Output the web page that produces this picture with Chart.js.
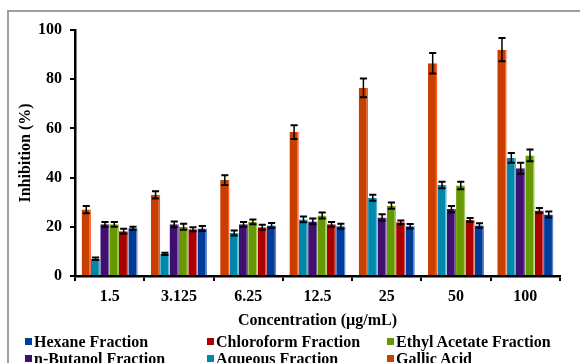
<!DOCTYPE html>
<html>
<head>
<meta charset="utf-8">
<script src="https://cdn.jsdelivr.net/npm/chart.js@4/dist/chart.umd.min.js"></script>
<style>
  html, body { margin: 0; padding: 0; background: #fff; }
  #wrap { position: relative; width: 580px; height: 363px; overflow: hidden; }
  #frame { position: absolute; left: 7px; top: 10px; width: 600px; height: 400px;
           border-left: 2px solid #a0a0a0; border-top: 2px solid #a0a0a0; box-sizing: border-box; }
  canvas { position: absolute; left: 0; top: 0; }
  .legend { position: absolute; font: bold 16px "Liberation Serif", "Times New Roman", serif;
            color: #000; line-height: 17px; white-space: nowrap; }
  .legend .sw { display: inline-block; width: 7px; height: 7px; margin-right: 2px; vertical-align: 2px; }
</style>
</head>
<body>
<div id="wrap">
  <div id="frame"></div>
  <canvas id="c" width="580" height="363"></canvas>
  <div id="legend"></div>
</div>
<script>
// Concentrations tested (µg/mL)
const concentrations = ['1.5', '3.125', '6.25', '12.5', '25', '50', '100'];

// Inhibition (%) means and error margins per sample
const gallicAcid      = [27, 33, 39, 58.5, 76.5, 86.5, 92];
const gallicAcidErr   = [1.5, 1.5, 2, 2.8, 3.8, 4.2, 4.7];
const aqueous         = [7, 9, 17.5, 23, 31.8, 37, 48];
const aqueousErr      = [0.5, 0.5, 1, 1.2, 1.2, 1.3, 2];
const nButanol        = [21, 21, 21, 22.2, 23.8, 27.2, 43.8];
const nButanolErr     = [1, 1.2, 1, 1.2, 1.3, 1.3, 2.2];
const ethylAcetate    = [21, 20, 22, 24.6, 28.6, 36.8, 49];
const ethylAcetateErr = [1, 1.2, 1, 1.2, 1.3, 1.5, 2.4];
const chloroform      = [18.2, 19, 19.8, 21, 21.8, 22.8, 26.6];
const chloroformErr   = [1, 0.8, 1, 1, 0.8, 0.8, 1];
const hexane          = [19.4, 19.3, 20.5, 20.2, 20.2, 20.5, 25];
const hexaneErr       = [0.6, 1, 1, 1, 0.9, 0.9, 1.2];

const yTicks = [0, 20, 40, 60, 80, 100];

const FONT = '"Liberation Serif", "Times New Roman", serif';

function series(label, data, err, fill, edge) {
  return { label, data, errors: err, backgroundColor: fill, borderColor: edge,
           borderWidth: { left: 0, right: 1.5, top: 0, bottom: 0 }, borderSkipped: 'bottom' };
}

const datasets = [
  series('Gallic Acid',            gallicAcid,   gallicAcidErr,   '#C84000', '#FF5A2A'),
  series('Aqueous Fraction',       aqueous,      aqueousErr,      '#0088AA', '#5BB8D0'),
  series('n-Butanol Fraction',     nButanol,     nButanolErr,     '#3F1070', '#7A5A9A'),
  series('Ethyl Acetate Fraction', ethylAcetate, ethylAcetateErr, '#669900', '#A0C860'),
  series('Chloroform Fraction',    chloroform,   chloroformErr,   '#AA0000', '#D06060'),
  series('Hexane Fraction',        hexane,       hexaneErr,       '#003C99', '#6088C8')
];

// Error bars drawn from each bar's own position and the y scale
const errorBars = {
  id: 'errorBars',
  afterDatasetsDraw(chart) {
    const ctx = chart.ctx;
    const y = chart.scales.y;
    ctx.save();
    ctx.strokeStyle = '#000';
    chart.data.datasets.forEach((ds, di) => {
      const meta = chart.getDatasetMeta(di);
      meta.data.forEach((bar, i) => {
        const v = ds.data[i], e = ds.errors[i];
        const yt = y.getPixelForValue(v + e);
        const yb = y.getPixelForValue(v - e);
        const half = bar.width * 0.38;
        ctx.lineWidth = 1.5;
        ctx.beginPath();
        ctx.moveTo(bar.x, yt); ctx.lineTo(bar.x, yb);
        ctx.stroke();
        ctx.lineWidth = 2;
        ctx.beginPath();
        ctx.moveTo(bar.x - half, yt); ctx.lineTo(bar.x + half, yt);
        ctx.moveTo(bar.x - half, yb); ctx.lineTo(bar.x + half, yb);
        ctx.stroke();
      });
    });
    ctx.restore();
  }
};

new Chart(document.getElementById('c'), {
  type: 'bar',
  data: { labels: concentrations, datasets },
  plugins: [errorBars],
  options: {
    responsive: false,
    animation: false,
    layout: { padding: { top: 30, right: 20, bottom: 33, left: 0 } },
    datasets: { bar: { categoryPercentage: 0.81, barPercentage: 1.0 } },
    plugins: { legend: { display: false }, tooltip: { enabled: false } },
    scales: {
      x: {
        afterFit(s) { s.height = 54; },
        grid: { drawOnChartArea: false, drawTicks: true, tickLength: 5, color: '#000', lineWidth: 2, offset: true },
        border: { display: true, color: '#000', width: 2.5 },
        ticks: { color: '#000', padding: 6, font: { family: FONT, size: 16, weight: 'bold' } },
        title: { display: true, text: 'Concentration (µg/mL)', color: '#000',
                 padding: { top: 0, bottom: 0 }, font: { family: FONT, size: 16, weight: 'bold' } }
      },
      y: {
        min: 0, max: 100,
        afterFit(s) { s.width = 75; },
        afterBuildTicks(s) { s.ticks = yTicks.map(v => ({ value: v })); },
        grid: { drawOnChartArea: false, drawTicks: true, tickLength: 5, color: '#000', lineWidth: 2 },
        border: { display: true, color: '#000', width: 2.5 },
        ticks: { color: '#000', padding: 8, font: { family: FONT, size: 16, weight: 'bold' } },
        title: { display: true, text: 'Inhibition (%)', color: '#000',
                 padding: { top: 16, bottom: 0 }, font: { family: FONT, size: 16, weight: 'bold' } }
      }
    }
  }
});

// Legend: three columns, two rows
const legendOrder = [
  ['Hexane Fraction', 0, 0], ['Chloroform Fraction', 1, 0], ['Ethyl Acetate Fraction', 2, 0],
  ['n-Butanol Fraction', 0, 1], ['Aqueous Fraction', 1, 1], ['Gallic Acid', 2, 1]
];
const colX = [25, 207, 387];
const rowY = [333, 350];
const legendBox = document.getElementById('legend');
legendOrder.forEach(([name, col, row]) => {
  const ds = datasets.find(d => d.label === name);
  const item = document.createElement('div');
  item.className = 'legend';
  item.style.left = colX[col] + 'px';
  item.style.top = rowY[row] + 'px';
  const sw = document.createElement('span');
  sw.className = 'sw';
  sw.style.background = ds.backgroundColor;
  item.appendChild(sw);
  item.appendChild(document.createTextNode(name));
  legendBox.appendChild(item);
});
</script>
</body>
</html>
